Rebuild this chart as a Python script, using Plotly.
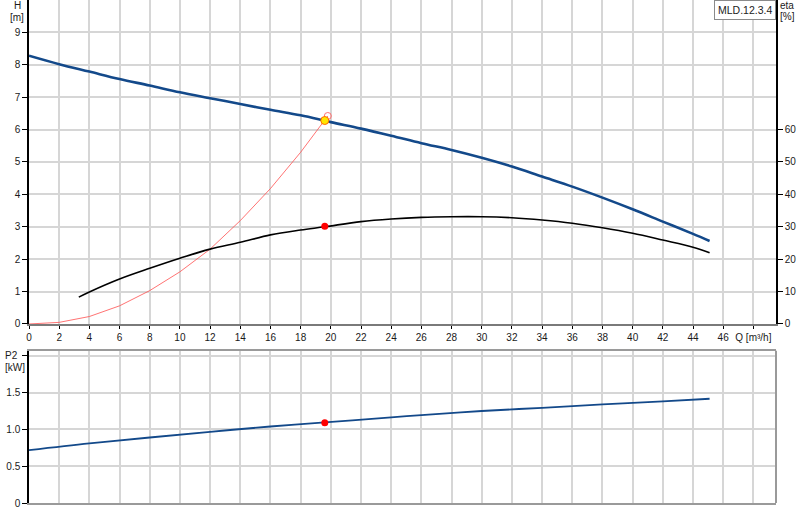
import plotly.graph_objects as go

# pump curve MLD.12.3.4
q_head = [0, 2, 4, 6, 8, 10, 12, 14, 16, 18, 20, 22, 24, 26, 28, 30, 32, 34, 36, 38, 40, 42, 44, 45.1]
head = [8.28, 8.02, 7.79, 7.56, 7.36, 7.15, 6.97, 6.79, 6.61, 6.44, 6.23, 6.03, 5.81, 5.58, 5.37,
        5.13, 4.86, 4.55, 4.24, 3.90, 3.54, 3.16, 2.78, 2.56]

q_eta = [3.3, 4, 6, 8, 10, 12, 14, 16, 18, 19.6, 22, 24, 26, 28, 30, 32, 34, 36, 38, 40, 42, 44, 45.1]
eta = [8.3, 9.9, 13.9, 17.2, 20.3, 23.1, 25.2, 27.5, 29.0, 30.0, 31.6, 32.4, 32.9, 33.1, 33.1,
       32.8, 32.1, 31.1, 29.7, 28.0, 25.9, 23.7, 22.0]

q_sys = [0, 2, 4, 6, 8, 10, 12, 14, 16, 18, 19.8]
h_sys = [0, 0.05, 0.23, 0.56, 1.03, 1.61, 2.31, 3.19, 4.18, 5.3, 6.42]

q_p2 = [0, 4, 8, 12, 16, 19.6, 24, 26, 30, 34, 38, 42, 45.1]
p2 = [0.718, 0.81, 0.89, 0.967, 1.04, 1.095, 1.163, 1.195, 1.25, 1.294, 1.34, 1.38, 1.417]

duty_q = 19.6
duty_h = 6.28
duty_eta = 30.2
duty_p2 = 1.09

x_ticks = list(range(0, 50, 2))
x_labels = [str(v) for v in x_ticks[:-1]] + ['Q [m³/h]']
h_ticks = list(range(0, 10))
eta_ticks = list(range(0, 70, 10))
p2_ticks = [0, 0.5, 1.0, 1.5, 2.0]
p2_labels = ['0', '0.5', '1.0', '1.5', '']

FONT = 'Liberation Sans, Arial, sans-serif'
GRID = '#d6d6d6'
BLUE = '#13498a'
TXT = '#1a1a1a'

fig = go.Figure()

fig.add_trace(go.Scatter(x=q_sys, y=h_sys, mode='lines', xaxis='x', yaxis='y',
                         line=dict(color='rgba(255,80,80,0.8)', width=1)))
fig.add_trace(go.Scatter(x=q_head, y=head, mode='lines', xaxis='x', yaxis='y',
                         line=dict(color=BLUE, width=2.6, shape='spline')))
fig.add_trace(go.Scatter(x=q_eta, y=eta, mode='lines', xaxis='x', yaxis='y2',
                         line=dict(color='black', width=1.6, shape='spline')))
fig.add_trace(go.Scatter(x=[q_sys[-1]], y=[h_sys[-1]], mode='markers', xaxis='x', yaxis='y',
                         marker=dict(size=7, color='rgba(255,255,255,0)',
                                     line=dict(color='#ff7070', width=1))))
fig.add_trace(go.Scatter(x=[duty_q], y=[duty_h], mode='markers', xaxis='x', yaxis='y',
                         marker=dict(size=8, color='#ffe600', line=dict(color='#ff6a00', width=1))))
fig.add_trace(go.Scatter(x=[duty_q], y=[duty_eta], mode='markers', xaxis='x', yaxis='y2',
                         marker=dict(size=7, color='#ff0000')))
fig.add_trace(go.Scatter(x=q_p2, y=p2, mode='lines', xaxis='x2', yaxis='y3',
                         line=dict(color=BLUE, width=1.8, shape='spline')))
fig.add_trace(go.Scatter(x=[duty_q], y=[duty_p2], mode='markers', xaxis='x2', yaxis='y3',
                         marker=dict(size=7, color='#ff0000')))

tick_font = dict(family=FONT, size=10, color=TXT)

fig.update_layout(
    template='none',
    width=800, height=520,
    margin=dict(l=29, r=24, t=0, b=17, pad=0),
    paper_bgcolor='white', plot_bgcolor='white',
    showlegend=False, hovermode=False,
    font=dict(family=FONT, size=10, color=TXT),
    xaxis=dict(domain=[0, 1], anchor='y', range=[0, 49.5], tickvals=x_ticks, ticktext=x_labels,
               showgrid=True, gridcolor=GRID, gridwidth=1.5, zeroline=False, automargin=False,
               showline=True, linecolor='#7a7a7a', linewidth=2,
               ticks='outside', ticklen=3, tickcolor='black', tickfont=tick_font),
    yaxis=dict(domain=[0.3559, 1], anchor='x', range=[0, 10], tickvals=h_ticks,
               showgrid=True, gridcolor=GRID, gridwidth=1.5, zeroline=False, automargin=False,
               showline=True, linecolor='black', linewidth=1.5,
               ticks='outside', ticklen=5, tickcolor='black', tickfont=tick_font),
    yaxis2=dict(overlaying='y', side='right', anchor='x', range=[0, 100], tickvals=eta_ticks,
                showgrid=False, zeroline=False, automargin=False,
                showline=True, linecolor='black', linewidth=1.5,
                ticks='outside', ticklen=5, tickcolor='black', tickfont=tick_font),
    xaxis2=dict(domain=[0, 1], anchor='y3', range=[0, 49.5], tickvals=x_ticks,
                showticklabels=False, ticks='', automargin=False,
                showgrid=True, gridcolor=GRID, gridwidth=1.5, zeroline=False,
                showline=True, linecolor='#9a9a9a', linewidth=2, mirror=True),
    yaxis3=dict(domain=[0, 0.3028], anchor='x2', range=[0, 2.07], tickvals=p2_ticks,
                ticktext=p2_labels, automargin=False,
                showgrid=True, gridcolor=GRID, gridwidth=1.5, zeroline=False,
                showline=True, linecolor='black', linewidth=1.5,
                ticks='outside', ticklen=5, tickcolor='black', tickfont=tick_font),
)

# grey right edge of the lower panel
fig.add_shape(type='line', xref='x2 domain', yref='y3 domain', x0=1, x1=1, y0=0, y1=1,
              line=dict(color='#9a9a9a', width=2))

def label(text, x, y, xanchor='center'):
    fig.add_annotation(text=text, xref='paper', yref='paper', x=x, y=y,
                       xanchor=xanchor, yanchor='middle', showarrow=False,
                       font=dict(family=FONT, size=10, color=TXT))

# paper coordinates: plot area is 747 x 503 px starting at (29, 0)
label('H', (17 - 29) / 747, (503 - 5) / 503)
label('[m]', (17 - 29) / 747, (503 - 17.5) / 503)
label('eta', (787 - 29) / 747, (503 - 5) / 503)
label('[%]', (787 - 29) / 747, (503 - 17) / 503)
label('P2', (3 - 29) / 747, (503 - 355.5) / 503, xanchor='left')
label('[kW]', (3 - 29) / 747, (503 - 367.5) / 503, xanchor='left')

fig.add_annotation(text='MLD.12.3.4', xref='paper', yref='paper', x=1, y=1,
                   xanchor='right', yanchor='top', showarrow=False,
                   bgcolor='white', bordercolor='#8a8a8a', borderwidth=1, borderpad=3,
                   font=dict(family=FONT, size=10.5, color='#222'))

# the page body has a default 8px margin; drop it so the figure fills the window
fig.write_html('out.html', config={'displayModeBar': False},
               post_script="document.body.style.margin='0px';")
